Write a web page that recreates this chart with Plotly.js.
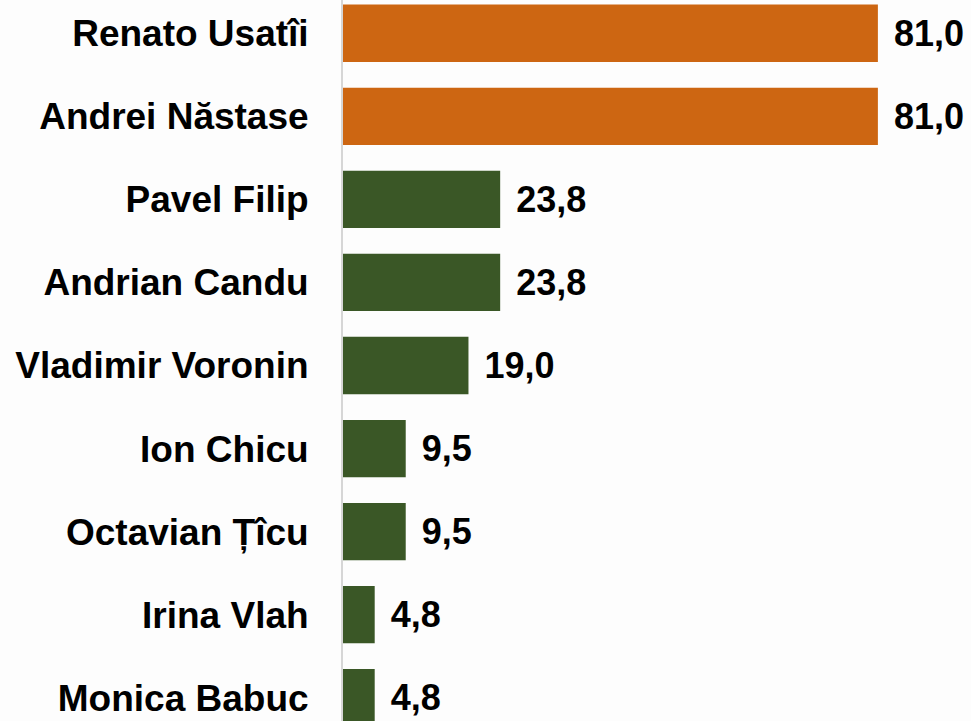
<!DOCTYPE html>
<html>
<head>
<meta charset="utf-8">
<script src="https://cdn.plot.ly/plotly-3.0.1.min.js"></script>
<style>html,body{margin:0;padding:0;background:#fff;} #chart{width:971px;height:721px;}</style>
</head>
<body>
<div id="chart"></div>
<script>
const names = ["Renato Usatîi","Andrei Năstase","Pavel Filip","Andrian Candu","Vladimir Voronin","Ion Chicu","Octavian Țîcu","Irina Vlah","Monica Babuc"];
const values = [81.0,81.0,23.8,23.8,19.0,9.5,9.5,4.8,4.8];
const barColors = ["#CD6612","#CD6612","#3A5726","#3A5726","#3A5726","#3A5726","#3A5726","#3A5726","#3A5726"];

const trace = {
  type: 'bar',
  orientation: 'h',
  y: names,
  x: values,
  marker: {color: barColors, line: {width: 0}},
  width: 0.69,
  texttemplate: '\u00a0\u200a%{x:.1f}',
  textposition: 'outside',
  constraintext: 'none',
  cliponaxis: false,
  textfont: {family: 'Liberation Sans, Arial, sans-serif', size: 36, color: '#000', weight: 'bold'},
  hoverinfo: 'none'
};

const layout = {
  width: 971, height: 721,
  margin: {l: 343, r: 0, t: 0, b: 0},
  paper_bgcolor: '#fdfdfd',
  plot_bgcolor: 'rgba(0,0,0,0)',
  separators: ',.',
  showlegend: false,
  xaxis: {range: [0, 95.1], visible: false, showgrid: false, zeroline: false},
  yaxis: {
    type: 'category',
    range: [8.28, -0.40],
    showline: true, linecolor: '#d6d6d6', linewidth: 2,
    ticks: 'outside', ticklen: 25, tickcolor: 'rgba(0,0,0,0)',
    showgrid: false, zeroline: false,
    tickfont: {family: 'Liberation Sans, Arial, sans-serif', size: 37, color: '#000', weight: 'bold'}
  }
};

Plotly.newPlot('chart', [trace], layout, {staticPlot: true, displayModeBar: false});
</script>
</body>
</html>
